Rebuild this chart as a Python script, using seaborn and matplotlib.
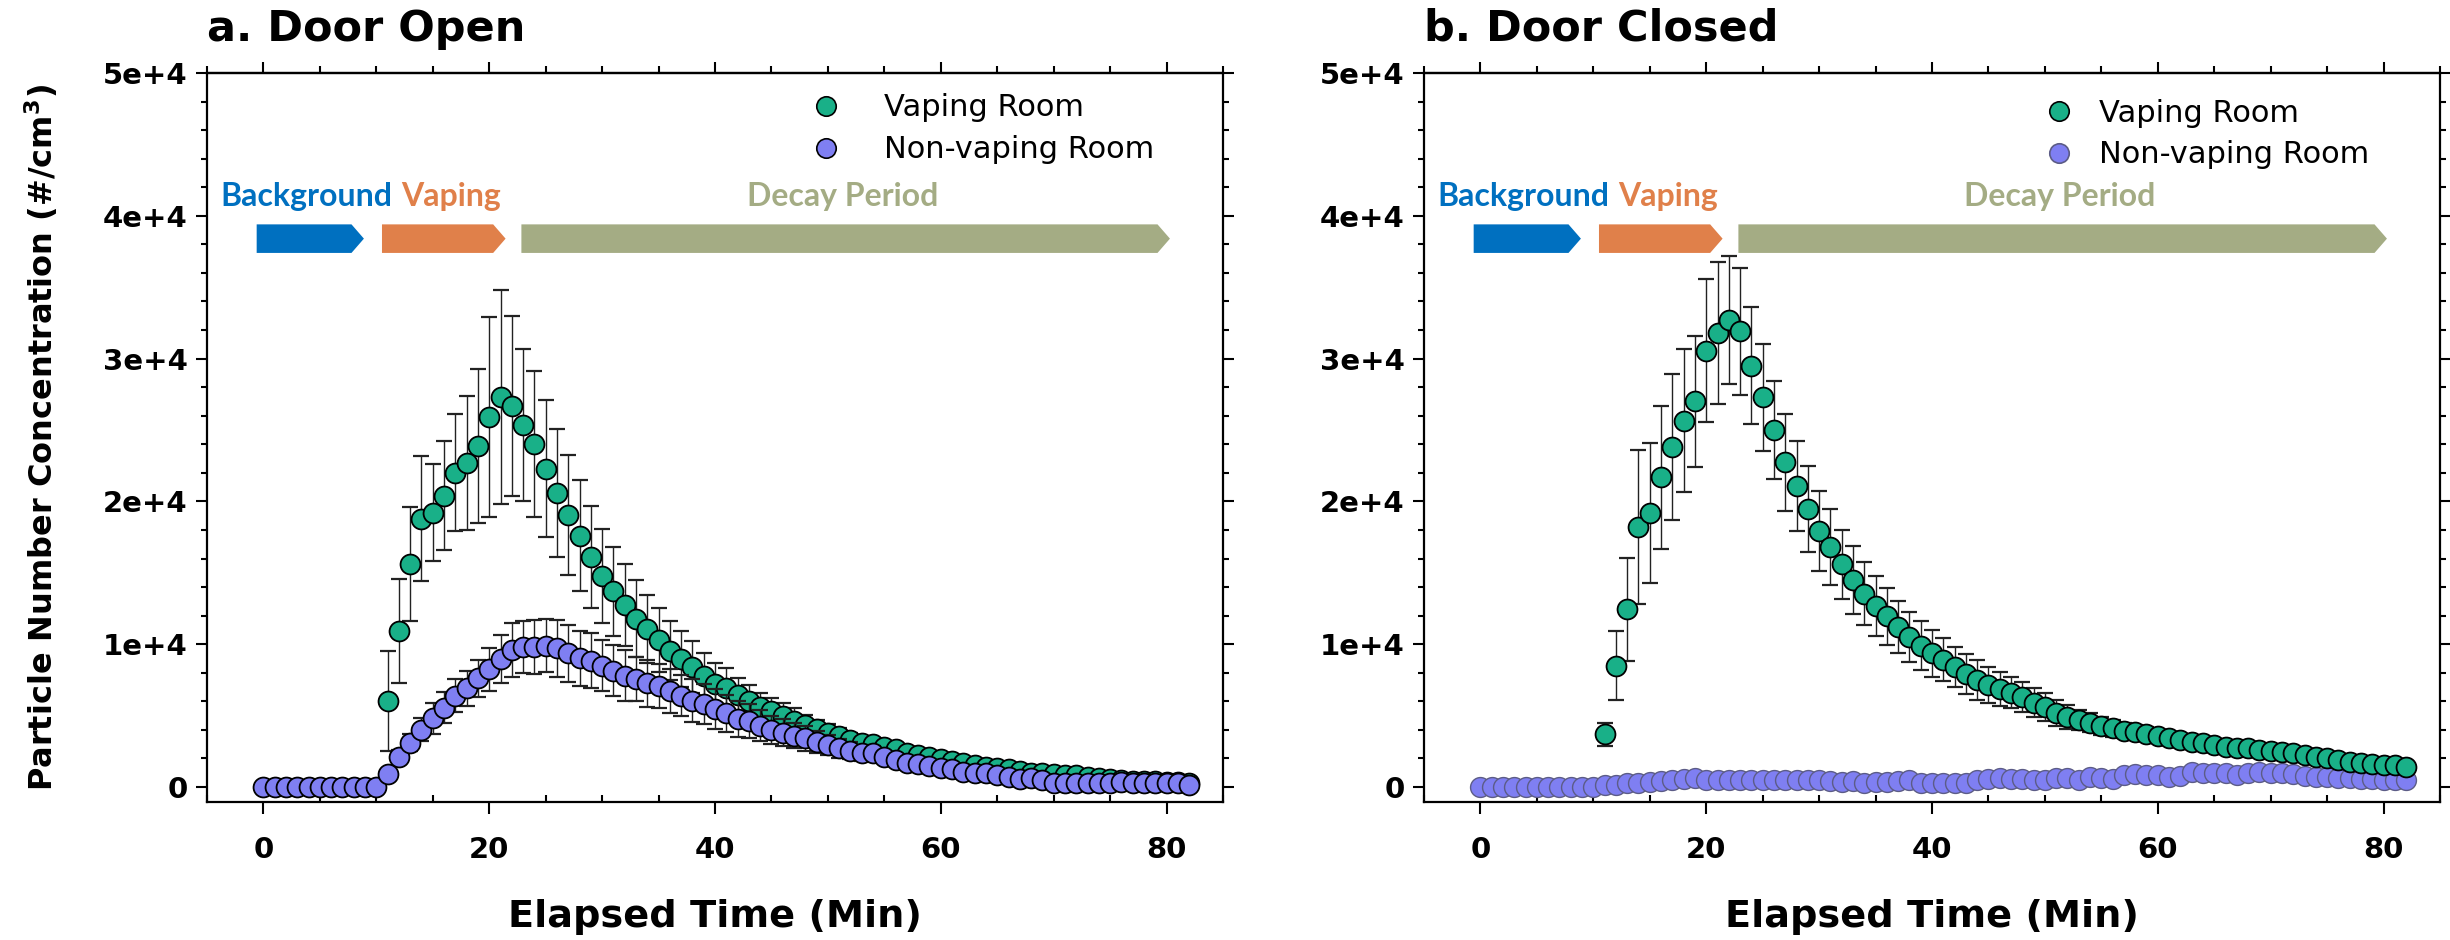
import numpy as np
import pandas as pd
import matplotlib
matplotlib.use("Agg")
import matplotlib.pyplot as plt
import seaborn as sns
from matplotlib.patches import Polygon
from matplotlib.lines import Line2D
from matplotlib.ticker import MultipleLocator

# ---------------- data ----------------
time_all = list(range(0, 83))          # minutes, non-vaping room sampled 0..82
time_vap = list(range(11, 83))         # vaping room plotted from minute 11

vap_a = [6000, 10900, 15600, 18800, 19200, 20400, 22000, 22700, 23900, 25900,
         27300, 26700, 25350, 24000, 22300, 20600, 19050, 17600, 16100, 14800,
         13700, 12750, 11800, 11050, 10300, 9550, 8950, 8400, 7750, 7200,
         6900, 6450, 6050, 5600, 5300, 4950, 4650, 4350, 4050, 3800,
         3570, 3300, 3100, 3000, 2800, 2650, 2400, 2250, 2100, 1950,
         1800, 1650, 1550, 1400, 1300, 1250, 1100, 1000, 950, 900,
         840, 870, 700, 600, 550, 500, 450, 400, 400, 350, 350, 300]
vap_a_err = [3500, 3650, 4000, 4400, 3400, 3800, 4100, 4700, 5400, 7000,
             7500, 6300, 5300, 5100, 4800, 4500, 4200, 3900, 3550, 3300,
             3100, 2850, 2700, 2400, 2250, 2050, 1950, 1800, 1650, 1450,
             1400, 1200, 1100, 950, 900, 900, 850, 700, 650, 600,
             550, 500, 500, 450, 450, 400, 400, 350, 350, 300,
             300, 300, 250, 250, 250, 200, 200, 200, 200, 200,
             150, 150, 150, 150, 150, 150, 150, 150, 150, 150, 150, 150]
nonvap_a = [30, 30, 30, 30, 30, 30, 30, 30, 30, 30, 30,
            900, 2100, 3100, 4000, 4800, 5550, 6400, 6900, 7600, 8250,
            8950, 9600, 9800, 9800, 9900, 9700, 9350, 9000, 8850, 8500,
            8150, 7800, 7550, 7250, 7050, 6700, 6400, 6050, 5800, 5450,
            5150, 4750, 4600, 4300, 4000, 3800, 3600, 3400, 3150, 2950,
            2700, 2550, 2400, 2350, 2100, 1900, 1700, 1600, 1500, 1350,
            1240, 1070, 1000, 1000, 840, 720, 540, 600, 490, 300,
            300, 300, 260, 260, 260, 370, 300, 260, 260, 300, 260, 140]
nonvap_a_err = [20, 20, 20, 20, 20, 20, 20, 20, 20, 20, 20,
                300, 500, 600, 800, 1100, 1100, 1150, 1200, 1300, 1500,
                1700, 1900, 1800, 1900, 1850, 2000, 2000, 1900, 1900, 1800,
                1800, 1800, 1550, 1650, 1550, 1550, 1450, 1500, 1400, 1400,
                1300, 1250, 1200, 1100, 1000, 950, 900, 850, 800, 700,
                650, 600, 550, 500, 450, 400, 400, 350, 350, 300,
                250, 250, 250, 250, 250, 250, 250, 250, 250, 250,
                150, 150, 150, 150, 150, 150, 150, 150, 150, 150, 150, 150]

vap_b = [3700, 8500, 12450, 18200, 19200, 21700, 23800, 25650, 27000, 30550,
         31800, 32700, 31900, 29500, 27300, 25000, 22750, 21100, 19450, 17950,
         16800, 15600, 14500, 13550, 12650, 11950, 11200, 10500, 9900, 9350,
         8900, 8400, 7900, 7500, 7150, 6850, 6600, 6300, 5900, 5600,
         5200, 4900, 4700, 4500, 4270, 4100, 3950, 3830, 3700, 3570,
         3400, 3300, 3170, 3060, 2940, 2820, 2750, 2700, 2600, 2520,
         2470, 2360, 2240, 2120, 2000, 1900, 1770, 1700, 1600, 1540, 1540, 1420]
vap_b_err = [800, 2400, 3600, 5400, 4900, 5000, 5100, 5000, 4600, 5000,
             4950, 4450, 4450, 4100, 3750, 3450, 3400, 3150, 3000, 2800,
             2650, 2400, 2350, 2200, 2100, 2000, 1850, 1750, 1700, 1650,
             1500, 1400, 1400, 1400, 1250, 1170, 1100, 1070, 1000, 1000,
             900, 840, 700, 660, 630, 600, 550, 500, 480, 430,
             400, 400, 380, 360, 300, 300, 280, 280, 260, 260,
             250, 250, 250, 250, 250, 250, 250, 250, 250, 250, 250, 250]
nonvap_b = [20, 20, 20, 20, 20, 20, 20, 20, 20, 20, 20,
            120, 140, 260, 300, 370, 420, 490, 540, 600, 490,
            460, 460, 490, 490, 460, 490, 460, 460, 490, 490,
            420, 370, 420, 260, 370, 370, 420, 490, 300, 260,
            260, 300, 300, 490, 540, 600, 540, 540, 490, 490,
            600, 600, 490, 720, 600, 540, 840, 880, 840, 840,
            720, 770, 1070, 1000, 960, 1000, 840, 1000, 1070, 1000,
            960, 930, 770, 720, 720, 600, 600, 540, 540, 490, 490, 460]

panel_titles = ["a. Door Open", "b. Door Closed"]
series_labels = ["Vaping Room", "Non-vaping Room"]
phase_labels = ["Background", "Vaping", "Decay Period"]
phase_start = [-0.6, 10.5, 22.85]
phase_end = [8.9, 21.45, 80.3]
phase_label_x = [3.8, 16.6, 51.3]
phase_colors = ["#0070C0", "#E0804A", "#A4AC84"]
xticks = [0, 20, 40, 60, 80]
xtick_labels = ["0", "20", "40", "60", "80"]
yticks = [0, 10000, 20000, 30000, 40000, 50000]
ytick_labels = ["0", "1e+4", "2e+4", "3e+4", "4e+4", "5e+4"]

GREEN = "#19B088"
PURPLE = "#7F7FF2"

# ---------------- style ----------------
sns.set_theme(style="ticks")
plt.rcParams["font.family"] = ["DejaVu Sans"]
plt.rcParams["mathtext.fontset"] = "dejavusans"
plt.rcParams["mathtext.default"] = "bf"
for key in ["text.color", "axes.labelcolor", "xtick.color", "ytick.color", "axes.edgecolor"]:
    plt.rcParams[key] = "black"

fig = plt.figure(figsize=(24.5, 9.4), dpi=100)
W, H = 2450.0, 940.0
ax_w, ax_h = 1016 / W, 729 / H
ax_a = fig.add_axes([207 / W, 1 - 802 / H, ax_w, ax_h])
ax_b = fig.add_axes([1424 / W, 1 - 802 / H, ax_w, ax_h])

df_a_v = pd.DataFrame({"t": time_vap, "c": vap_a, "e": vap_a_err})
df_a_n = pd.DataFrame({"t": time_all, "c": nonvap_a, "e": nonvap_a_err})
df_b_v = pd.DataFrame({"t": time_vap, "c": vap_b, "e": vap_b_err})
df_b_n = pd.DataFrame({"t": time_all, "c": nonvap_b})

MS = 205
ERR_KW = dict(fmt="none", ecolor="#222222", elinewidth=1.0, capsize=5.5, capthick=1.6)

# panel a : vaping, then non-vaping on top
ax_a.errorbar(df_a_v.t, df_a_v.c, yerr=df_a_v.e, zorder=2, **ERR_KW)
sns.scatterplot(data=df_a_v, x="t", y="c", ax=ax_a, s=MS, color=GREEN,
                edgecolor="black", linewidth=1.3, zorder=3, legend=False)
ax_a.errorbar(df_a_n.t, df_a_n.c, yerr=df_a_n.e, zorder=4, **ERR_KW)
sns.scatterplot(data=df_a_n, x="t", y="c", ax=ax_a, s=MS, color=PURPLE,
                edgecolor="black", linewidth=1.3, zorder=5, legend=False)

# panel b : non-vaping first, vaping on top
sns.scatterplot(data=df_b_n, x="t", y="c", ax=ax_b, s=MS, color=PURPLE,
                edgecolor="#5c5c86", linewidth=1.0, zorder=2, legend=False)
ax_b.errorbar(df_b_v.t, df_b_v.c, yerr=df_b_v.e, zorder=3, **ERR_KW)
sns.scatterplot(data=df_b_v, x="t", y="c", ax=ax_b, s=MS, color=GREEN,
                edgecolor="black", linewidth=1.3, zorder=4, legend=False)

legend_pos = [(0.594, 0.972, 1.4), (0.61, 0.965, 0.8)]

for k, (ax, title) in enumerate(zip([ax_a, ax_b], panel_titles)):
    ax.set_xlim(-5, 85)
    ax.set_ylim(-1050, 50000)
    ax.set_xlabel("")
    ax.set_ylabel("")
    for sp in ax.spines.values():
        sp.set_visible(True)
        sp.set_linewidth(1.6)
        sp.set_color("black")
    ax.set_xticks(xticks)
    ax.set_xticklabels(xtick_labels, fontsize=21, fontweight="bold", color="black")
    ax.set_yticks(yticks)
    ax.set_yticklabels(ytick_labels, fontsize=21, fontweight="bold", color="black")
    ax.xaxis.set_minor_locator(MultipleLocator(5))
    ax.yaxis.set_minor_locator(MultipleLocator(2000))
    ax.tick_params(axis="x", which="major", direction="out", length=8.5, width=1.5,
                   pad=16, bottom=True, top=False, colors="black")
    ax.tick_params(axis="x", which="minor", direction="in", length=5, width=1.5,
                   bottom=True, top=False, colors="black")
    ax.tick_params(axis="y", which="major", direction="out", length=8, width=1.5,
                   pad=6, left=True, right=True, labelright=False, colors="black")
    ax.tick_params(axis="y", which="minor", direction="out", length=4.5, width=1.5,
                   left=True, right=True, colors="black")
    sec = ax.secondary_xaxis("top")
    sec.set_xticks(xticks)
    sec.set_xticklabels([])
    sec.xaxis.set_minor_locator(MultipleLocator(5))
    sec.tick_params(which="major", direction="out", length=8, width=1.5, colors="black")
    sec.tick_params(which="minor", direction="out", length=5, width=1.5, colors="black")
    sec.spines["top"].set_linewidth(1.6)
    sec.spines["top"].set_color("black")

    # phase arrows
    y0, y1 = 37400, 39400
    for x0, x1, col in zip(phase_start, phase_end, phase_colors):
        head = 1.1
        verts = [(x0, y0), (x1 - head, y0), (x1, (y0 + y1) / 2), (x1 - head, y1), (x0, y1)]
        ax.add_patch(Polygon(verts, closed=True, facecolor=col, edgecolor="none", zorder=1))
    for lab, lx, col in zip(phase_labels, phase_label_x, phase_colors):
        ax.text(lx, 40700, lab, color=col, fontsize=23, fontweight="bold",
                family=["Lato", "DejaVu Sans"], ha="center", va="baseline", zorder=6)

    # title & x label
    ax.text(0.0, 1.044, title, transform=ax.transAxes, fontsize=31, fontweight="bold",
            ha="left", va="baseline", color="black")
    ax.text(0.5, (802 - 927) / 729, "Elapsed Time (Min)", transform=ax.transAxes,
            fontsize=27.5, fontweight="bold", ha="center", va="baseline", color="black")

    # legend
    handles = [Line2D([], [], ls="none", marker="o", markersize=14, markerfacecolor=GREEN,
                      markeredgecolor="black", markeredgewidth=1.2),
               Line2D([], [], ls="none", marker="o", markersize=14, markerfacecolor=PURPLE,
                      markeredgecolor="black" if k == 0 else "#5c5c86", markeredgewidth=1.2)]
    lx, ly, tp = legend_pos[k]
    leg = ax.legend(handles, series_labels, loc="upper left", bbox_to_anchor=(lx, ly),
                    frameon=False, fontsize=22, handlelength=1.0, handletextpad=tp,
                    labelspacing=0.42, borderpad=0, borderaxespad=0)
    for t in leg.get_texts():
        t.set_color("black")

ax_a.text((41 - 207) / 1016, 0.5, "Particle Number Concentration (#/cm$^{3}$)",
          transform=ax_a.transAxes, rotation=90, fontsize=23, fontweight="bold",
          ha="center", va="center", color="black")

fig.savefig("out.png", dpi=100)
